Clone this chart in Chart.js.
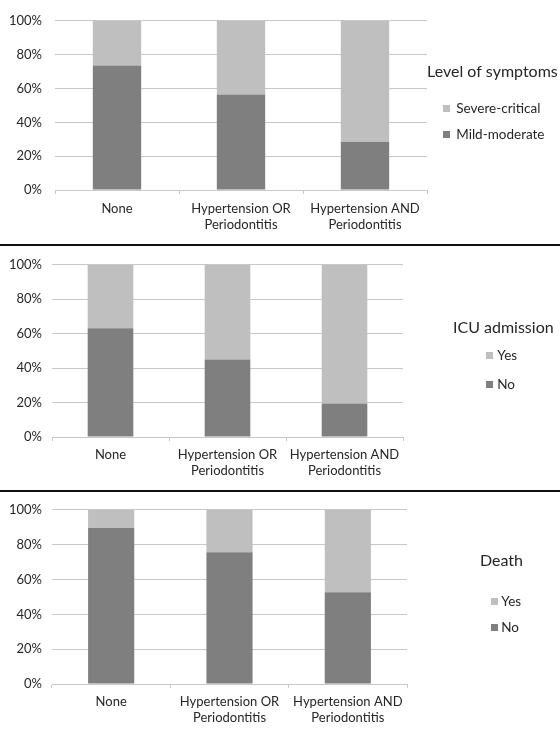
<!DOCTYPE html>
<html>
<head>
<meta charset="utf-8">
<script src="https://cdn.jsdelivr.net/npm/chart.js@4/dist/chart.umd.min.js"></script>
<style>
  body { margin: 0; background: #fff; }
  #page { position: relative; width: 560px; height: 733px; overflow: hidden; }
  canvas { position: absolute; left: 0; }
  .sep { position: absolute; left: 0; width: 560px; height: 2px; background: #111; }
</style>
</head>
<body>
<div id="page">
  <canvas id="c1" width="560" height="244" style="top:0"></canvas>
  <div class="sep" style="top:244px"></div>
  <canvas id="c2" width="560" height="243" style="top:247px"></canvas>
  <div class="sep" style="top:490px"></div>
  <canvas id="c3" width="560" height="241" style="top:492px"></canvas>
</div>
<script>
const categories = ["None", ["Hypertension OR", "Periodontitis"], ["Hypertension AND", "Periodontitis"]];
const yTicks = [0, 20, 40, 60, 80, 100];

// panel 1 - level of symptoms (%)
const mildModerate = [73.6, 56.5, 28.5];
const severeCritical = [26.4, 43.5, 71.5];
// panel 2 - ICU admission (%)
const icuNo = [63.2, 45.0, 19.5];
const icuYes = [36.8, 55.0, 80.5];
// panel 3 - death (%)
const deathNo = [89.5, 75.6, 52.7];
const deathYes = [10.5, 24.4, 47.3];

const DARK = "#7f7f7f";
const LIGHT = "#bfbfbf";
const GRID = "#c8c8c8";
const TEXT = "#262626";
const FONT = "Lato";

// small square legend marker, pushed to the right end of a wider transparent canvas
function marker(color, w) {
  const c = document.createElement("canvas");
  c.width = w;
  c.height = 7;
  const g = c.getContext("2d");
  g.fillStyle = color;
  g.fillRect(w - 7, 0, 7, 7);
  return c;
}

function makePanel(id, title, bottomName, bottomVals, topName, topVals, lay) {
  new Chart(document.getElementById(id), {
    type: "bar",
    data: {
      labels: categories,
      datasets: [
        { label: bottomName, data: bottomVals, backgroundColor: DARK },
        { label: topName, data: topVals, backgroundColor: LIGHT }
      ]
    },
    options: {
      responsive: false,
      animation: false,
      layout: { padding: { top: lay.padTop, right: 0, bottom: 0, left: 0 } },
      datasets: { bar: { barPercentage: 0.39, categoryPercentage: 1 } },
      plugins: {
        tooltip: { enabled: false },
        legend: {
          position: "right",
          align: "start",
          reverse: true,
          maxWidth: 560 - lay.legendLeft,
          title: {
            display: true,
            text: title,
            position: "start",
            color: TEXT,
            font: { family: FONT, size: 16 },
            padding: { top: lay.titleTop, bottom: lay.titleBottom }
          },
          labels: {
            color: TEXT,
            font: { family: FONT, size: 13.5 },
            usePointStyle: true,
            pointStyleWidth: lay.pw,
            boxHeight: 7,
            padding: lay.itemPad,
            generateLabels: chart => Chart.defaults.plugins.legend.labels.generateLabels(chart).map(item => ({
              ...item,
              text: item.text + "\u2003".repeat(12),
              pointStyle: marker(item.fillStyle, lay.cw)
            }))
          }
        }
      },
      scales: {
        x: {
          stacked: true,
          grid: { drawOnChartArea: false, drawTicks: true, tickLength: 4, color: GRID },
          border: { color: GRID },
          ticks: { color: TEXT, font: { family: FONT, size: 13, lineHeight: 1.22 }, padding: lay.xPad, maxRotation: 0, autoSkip: false },
          afterFit: s => { s.height = lay.xHeight; }
        },
        y: {
          stacked: true,
          min: 0,
          max: 100,
          afterBuildTicks: s => { s.ticks = yTicks.map(v => ({ value: v })); },
          grid: { color: GRID, drawTicks: false },
          border: { display: false },
          ticks: { color: TEXT, font: { family: FONT, size: 13 }, padding: lay.yPad, callback: v => v + "%" },
          afterFit: s => { s.width = lay.left; }
        },
        gap: {
          type: "linear",
          position: "right",
          grid: { display: false },
          border: { display: false },
          ticks: { display: false },
          afterFit: s => { s.width = lay.legendLeft - lay.right; }
        }
      }
    }
  });
}

makePanel("c1", "Level of symptoms", "Mild-moderate", mildModerate, "Severe-critical", severeCritical,
  { padTop: 17, left: 55, right: 427, legendLeft: 427, xHeight: 54, xPad: 7, yPad: 13,
    titleTop: 47, titleBottom: 6.5, itemPad: 12.5, pw: 10, cw: 11 });
makePanel("c2", "ICU admission", "No", icuNo, "Yes", icuYes,
  { padTop: 16, left: 52, right: 403, legendLeft: 453, xHeight: 53, xPad: 6, yPad: 10,
    titleTop: 57, titleBottom: -5.5, itemPad: 15.5, pw: 22, cw: 27 });
makePanel("c3", "Death", "No", deathNo, "Yes", deathYes,
  { padTop: 17, left: 52, right: 407, legendLeft: 480, xHeight: 49, xPad: 6, yPad: 10,
    titleTop: 44, titleBottom: 10.5, itemPad: 12.5, pw: 2, cw: 9 });
</script>
</body>
</html>
